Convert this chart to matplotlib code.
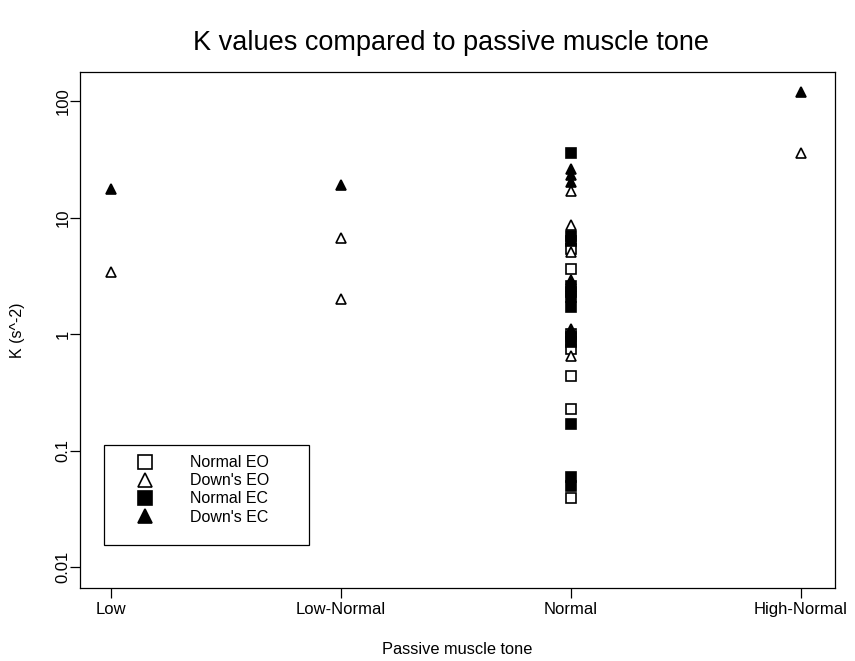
import numpy as np
import matplotlib
matplotlib.use("Agg")
import matplotlib.pyplot as plt
from matplotlib.patches import Rectangle

plt.rcParams['font.family'] = ['Liberation Sans', 'DejaVu Sans']

categories = ["Low", "Low-Normal", "Normal", "High-Normal"]

# (category index, K value) pairs
normal_eo_x = [3, 3, 3, 3, 3, 3, 3]
normal_eo_y = [5.4, 3.6, 1.0, 0.74, 0.44, 0.23, 0.039]

downs_eo_x = [1, 2, 2, 3, 3, 3, 3, 3, 4]
downs_eo_y = [3.4, 6.7, 2.0, 17.0, 8.6, 5.1, 1.05, 0.65, 35.8]

normal_ec_x = [3, 3, 3, 3, 3, 3, 3, 3, 3, 3, 3, 3]
normal_ec_y = [36.0, 7.0, 6.3, 2.6, 2.3, 2.1, 1.7, 0.95, 0.85, 0.17, 0.06, 0.05]

downs_ec_x = [1, 2, 3, 3, 3, 3, 3, 3, 4]
downs_ec_y = [17.6, 19.0, 26.0, 23.0, 20.0, 6.6, 2.9, 1.1, 119.0]

fig = plt.figure(figsize=(8.55, 6.61), dpi=100)
ax = fig.add_axes([0.0936, 0.110, 0.883, 0.781])

ms = 6.5
mew = 1.2
ax.plot(normal_eo_x, normal_eo_y, 's', ls='none', ms=ms, mfc='white', mec='black', mew=mew, label='Normal EO')
ax.plot(downs_eo_x, downs_eo_y, '^', ls='none', ms=ms, mfc='white', mec='black', mew=mew, label="Down's EO")
ax.plot(normal_ec_x, normal_ec_y, 's', ls='none', ms=ms, mfc='black', mec='black', mew=mew, label='Normal EC')
ax.plot(downs_ec_x, downs_ec_y, '^', ls='none', ms=ms, mfc='black', mec='black', mew=mew, label="Down's EC")

ax.set_yscale('log')
ax.set_ylim(0.0066, 177)
ax.set_xlim(0.865, 4.15)
ax.set_yticks([0.01, 0.1, 1, 10, 100])
ax.set_yticklabels(["0.01", "0.1", "1", "10", "100"], rotation=90, va='center')
ax.minorticks_off()
ax.set_xticks([1, 2, 3, 4])
ax.set_xticklabels(categories)
ax.tick_params(labelsize=12, length=7, width=0.9, pad=3)
ax.tick_params(axis='y', pad=0)
for s in ax.spines.values():
    s.set_linewidth(0.9)

ax.set_xlabel("Passive muscle tone", fontsize=11.8, labelpad=18)
ax.set_ylabel("K (s^-2)", fontsize=11.5, labelpad=22)
fig.suptitle("K values compared to passive muscle tone", fontsize=19.5, x=0.527, y=0.955)

leg = ax.legend(loc='upper left', bbox_to_anchor=(0.065, 0.258), fontsize=11.5,
                frameon=False, handletextpad=1.8, labelspacing=0.2, borderpad=0,
                borderaxespad=0, markerscale=1.5, handlelength=2.0)
ax.add_patch(Rectangle((0.0318, 0.0833), 0.2715, 0.1938, transform=ax.transAxes,
                       fill=False, edgecolor='black', linewidth=0.9))

fig.savefig("out.png", dpi=100)
